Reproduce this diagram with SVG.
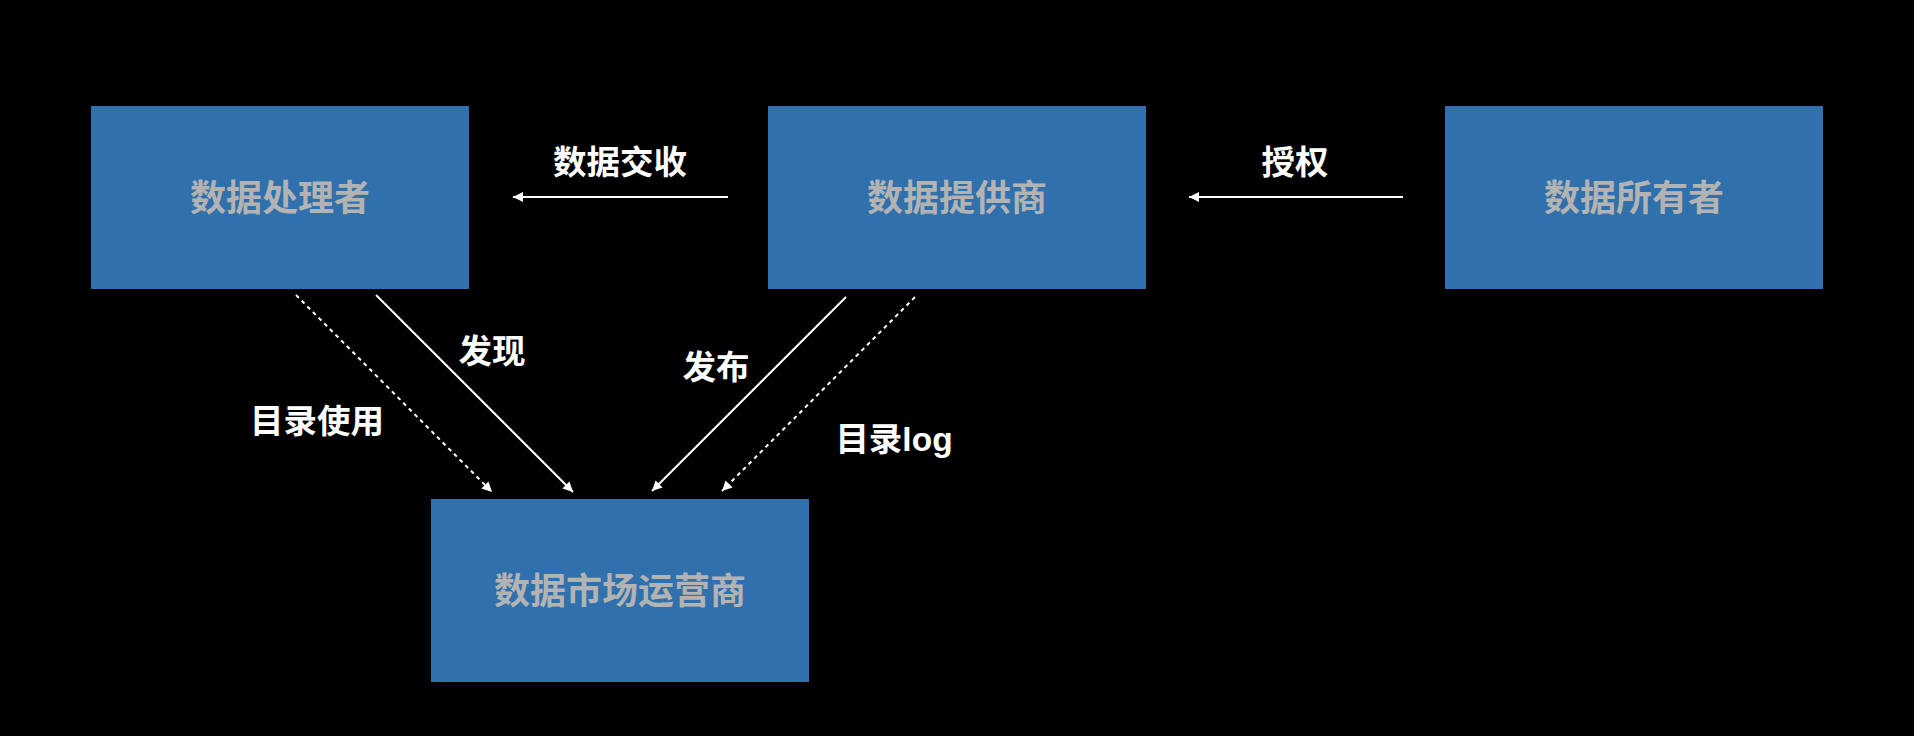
<svg xmlns="http://www.w3.org/2000/svg" width="1914" height="736" viewBox="0 0 1914 736">
<style>
.box{fill:#3070ad}
.nt{font-family:"Liberation Sans","Noto Sans CJK SC",sans-serif;font-weight:bold;font-size:36px;fill:#b3b3b3;text-anchor:middle}
.lb{font-family:"Liberation Sans","Noto Sans CJK SC",sans-serif;font-weight:bold;font-size:33.5px;fill:#ffffff;text-anchor:middle}
.c{stroke:#ffffff;stroke-width:2;fill:none}
.d{stroke-dasharray:4 4}
</style>
<defs>
<marker id="ah" viewBox="0 0 10 10" refX="10" refY="5" markerWidth="12" markerHeight="10" markerUnits="userSpaceOnUse" orient="auto">
<path d="M0,0 L10,5 L0,10 Z" fill="#ffffff"/>
</marker>
</defs>
<rect width="1914" height="736" fill="#000000"/>
<g id="processor"><rect class="box" x="91" y="106" width="378" height="183"/><text class="nt" x="280" y="211">数据处理者</text></g>
<g id="provider"><rect class="box" x="768" y="106" width="378" height="183"/><text class="nt" x="957" y="211">数据提供商</text></g>
<g id="owner"><rect class="box" x="1445" y="106" width="378" height="183"/><text class="nt" x="1634" y="211">数据所有者</text></g>
<g id="operator"><rect class="box" x="431" y="499" width="378" height="183"/><text class="nt" x="620" y="604">数据市场运营商</text></g>
<g id="connectors">
<line class="c" x1="728" y1="197" x2="513" y2="197" marker-end="url(#ah)"/>
<line class="c" x1="1403" y1="197" x2="1189" y2="197" marker-end="url(#ah)"/>
<line class="c d" x1="296" y1="295" x2="492" y2="492" marker-end="url(#ah)"/>
<line class="c" x1="376" y1="295" x2="573" y2="492" marker-end="url(#ah)"/>
<line class="c" x1="846" y1="297" x2="652" y2="491" marker-end="url(#ah)"/>
<line class="c d" x1="915" y1="297" x2="722" y2="491" marker-end="url(#ah)"/>
<text class="lb" x="620" y="174">数据交收</text>
<text class="lb" x="1295" y="174">授权</text>
<text class="lb" x="492" y="363">发现</text>
<text class="lb" x="317" y="433">目录使用</text>
<text class="lb" x="716" y="379">发布</text>
<text class="lb" x="894" y="451">目录log</text>
</g>
</svg>
